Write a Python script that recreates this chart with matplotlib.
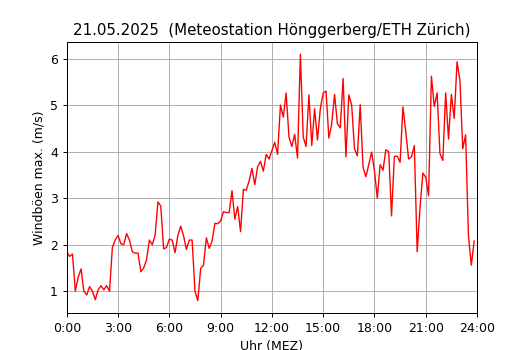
import numpy as np
import matplotlib
matplotlib.use("Agg")
import matplotlib.pyplot as plt

# Windboeen max. (m/s), 10-Minuten-Werte ab 0:00
gust = [
    1.85, 1.75, 1.8, 1.0, 1.3, 1.48,
    1.0, 0.92, 1.1, 1.0, 0.82, 1.03,
    1.12, 1.03, 1.12, 1.0, 1.94, 2.1,
    2.2, 2.02, 2.0, 2.24, 2.1, 1.85,
    1.82, 1.82, 1.42, 1.5, 1.68, 2.1,
    2.0, 2.2, 2.92, 2.83, 1.91, 1.94,
    2.12, 2.1, 1.83, 2.2, 2.4, 2.19,
    1.9, 2.1, 2.1, 1.0, 0.8, 1.49,
    1.56, 2.15, 1.92, 2.08, 2.46, 2.45,
    2.51, 2.71, 2.69, 2.69, 3.16, 2.55,
    2.82, 2.28, 3.19, 3.17, 3.37, 3.64,
    3.29, 3.68, 3.79, 3.58, 3.94, 3.84,
    4.02, 4.2, 3.94, 5.0, 4.74, 5.26,
    4.31, 4.11, 4.37, 3.86, 6.09, 4.31,
    4.11, 5.22, 4.13, 4.92, 4.25, 4.92,
    5.26, 5.3, 4.29, 4.6, 5.23, 4.6,
    4.51, 5.57, 3.89, 5.22, 5.0, 4.06,
    3.91, 5.01, 3.66, 3.46, 3.72, 3.99,
    3.59, 3.0, 3.72, 3.6, 4.04, 4.0,
    2.62, 3.9, 3.9, 3.77, 4.96, 4.42,
    3.84, 3.89, 4.13, 1.85, 2.8, 3.54,
    3.45, 3.05, 5.62, 4.97, 5.26, 3.96,
    3.81, 5.26, 4.27, 5.23, 4.71, 5.93,
    5.53, 4.06, 4.36, 2.19, 1.56, 2.08,
]
hours = np.arange(len(gust)) / 6.0

tick_pos = [0, 3, 6, 9, 12, 15, 18, 21, 24]
tick_lab = ['0:00', '3:00', '6:00', '9:00', '12:00', '15:00', '18:00', '21:00', '24:00']

dpi = 90
fig = plt.figure(figsize=(530 / dpi, 350 / dpi), dpi=dpi)
ax = fig.add_axes([0.126, 0.106, 0.774, 0.774])
ax.plot(hours, gust, color='red', linewidth=1.1)
ax.set_xlim(0, 24)
ax.set_xticks(tick_pos)
ax.set_xticklabels(tick_lab)
ax.grid(True)
ax.set_title('21.05.2025  (Meteostation Hönggerberg/ETH Zürich)')
ax.set_xlabel('Uhr (MEZ)')
ax.set_ylabel('Windböen max. (m/s)')

fig.savefig('out.png', dpi=dpi)
